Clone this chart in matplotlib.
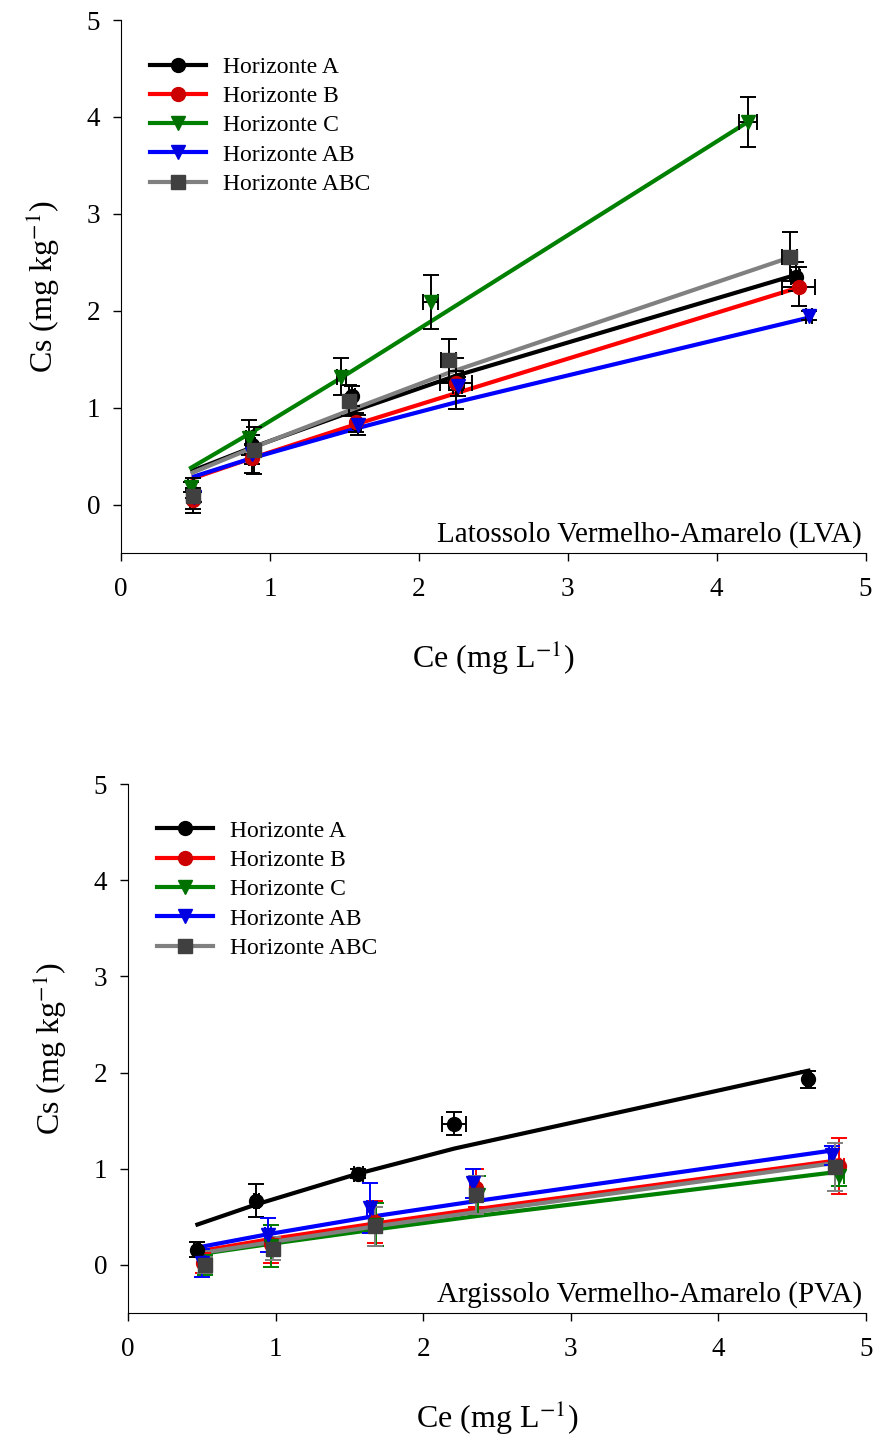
import numpy as np
import matplotlib
matplotlib.use("Agg")
import matplotlib.pyplot as plt
from matplotlib.lines import Line2D

plt.rcParams['font.family'] = ['Liberation Serif', 'DejaVu Serif']
plt.rcParams['mathtext.fontset'] = 'stix'

labels = ['Horizonte A', 'Horizonte B', 'Horizonte C', 'Horizonte AB', 'Horizonte ABC']
line_colors = ['black', '#ff0000', '#008000', '#0000ff', '#808080']
marker_colors = ['black', '#cc0000', '#007000', '#0000e0', '#404040']
markers = ['o', 'o', 'v', 'v', 's']

# ---- Latossolo Vermelho-Amarelo (LVA) ----
lva_x = [[0.48, 0.88, 1.55, 2.25, 4.53],
         [0.48, 0.88, 1.58, 2.25, 4.55],
         [0.47, 0.86, 1.48, 2.08, 4.21],
         [0.49, 0.88, 1.59, 2.26, 4.62],
         [0.48, 0.89, 1.53, 2.20, 4.49]]
lva_y = [[0.12, 0.62, 1.12, 1.28, 2.35],
         [0.05, 0.48, 0.85, 1.25, 2.25],
         [0.18, 0.69, 1.32, 2.09, 3.95],
         [0.08, 0.52, 0.82, 1.22, 1.95],
         [0.09, 0.56, 1.07, 1.49, 2.56]]
lva_yerr = [[0.05, 0.10, 0.10, 0.10, 0.15],
            [0.10, 0.15, 0.10, 0.26, 0.20],
            [0.05, 0.18, 0.19, 0.28, 0.26],
            [0.05, 0.10, 0.10, 0.10, 0.05],
            [0.18, 0.24, 0.16, 0.22, 0.25]]
lva_xerr = [[0.02, 0.02, 0.02, 0.05, 0.03],
            [0.02, 0.02, 0.02, 0.11, 0.11],
            [0.02, 0.02, 0.03, 0.05, 0.06],
            [0.02, 0.02, 0.02, 0.03, 0.02],
            [0.02, 0.02, 0.02, 0.05, 0.05]]
lva_fit = [[0.35, 0.59, 0.96, 1.33, 2.37],
           [0.27, 0.48, 0.83, 1.15, 2.24],
           [0.38, 0.73, 1.31, 1.89, 3.95],
           [0.29, 0.48, 0.79, 1.06, 1.93],
           [0.33, 0.59, 0.97, 1.36, 2.55]]

# ---- Argissolo Vermelho-Amarelo (PVA) ----
pva_x = [[0.47, 0.87, 1.56, 2.21, 4.61],
         [0.51, 0.97, 1.67, 2.36, 4.82],
         [0.52, 0.97, 1.68, 2.37, 4.82],
         [0.50, 0.95, 1.64, 2.34, 4.77],
         [0.52, 0.98, 1.67, 2.36, 4.79]]
pva_y = [[0.16, 0.67, 0.95, 1.47, 1.93],
         [0.02, 0.22, 0.45, 0.80, 1.03],
         [0.00, 0.20, 0.42, 0.73, 0.92],
         [0.02, 0.31, 0.59, 0.85, 1.14],
         [0.00, 0.17, 0.40, 0.73, 1.02]]
pva_yerr = [[0.08, 0.17, 0.05, 0.12, 0.09],
            [0.10, 0.20, 0.22, 0.20, 0.29],
            [0.10, 0.22, 0.22, 0.20, 0.10],
            [0.15, 0.18, 0.26, 0.15, 0.10],
            [0.08, 0.12, 0.20, 0.20, 0.25]]
pva_xerr = [[0.02, 0.02, 0.03, 0.08, 0.02],
            [0.02, 0.02, 0.02, 0.02, 0.03],
            [0.02, 0.02, 0.02, 0.02, 0.03],
            [0.02, 0.02, 0.02, 0.02, 0.02],
            [0.02, 0.02, 0.02, 0.02, 0.02]]
pva_fit = [[0.42, 0.63, 0.95, 1.21, 2.02],
           [0.15, 0.27, 0.43, 0.58, 1.09],
           [0.12, 0.22, 0.37, 0.51, 0.97],
           [0.19, 0.32, 0.50, 0.66, 1.19],
           [0.13, 0.24, 0.40, 0.55, 1.06]]


def drawPanel(ax, xs, ys, xerrs, yerrs, fits, title, colored_err):
	for i in range(5):
		ax.plot(xs[i], fits[i], color=line_colors[i], lw=3, zorder=2)
	for i in range(5):
		ecol = line_colors[i] if colored_err else 'black'
		ax.errorbar(xs[i], ys[i], yerr=yerrs[i], xerr=xerrs[i], fmt='none',
			ecolor=ecol, elinewidth=1.4, capsize=6, capthick=1.4, zorder=3)
		ax.plot(xs[i], ys[i], linestyle='none', marker=markers[i], ms=10,
			color=marker_colors[i], mec=marker_colors[i], zorder=4)
	ax.set_xlim(0, 5)
	ax.set_ylim(-0.5, 5)
	ax.set_xticks(range(6))
	ax.set_yticks(range(6))
	ax.spines['top'].set_visible(False)
	ax.spines['right'].set_visible(False)
	ax.tick_params(direction='out', length=6, width=1, labelsize=19.5)
	ax.tick_params(axis='x', pad=11)
	ax.tick_params(axis='y', pad=9)
	ax.set_xlabel(r'Ce (mg L$^{-1}$)', fontsize=23, labelpad=27)
	ax.set_ylabel(r'Cs (mg kg$^{-1}$)', fontsize=23, labelpad=18)
	ax.text(0.995, 0.01, title, transform=ax.transAxes, ha='right', va='bottom', fontsize=21)
	handles = []
	for i in range(5):
		handles.append(Line2D([0], [0], color=line_colors[i], lw=3, marker=markers[i],
			ms=10, mfc=marker_colors[i], mec=marker_colors[i]))
	ax.legend(handles, labels, loc='upper left', bbox_to_anchor=(0.01, 0.972), frameon=False,
		fontsize=17, handlelength=2.4, labelspacing=0.33, handletextpad=0.7, numpoints=1)


fig = plt.figure(figsize=(8.77, 14.35), dpi=100)
ax1 = fig.add_axes([0.138, 0.6146, 0.849, 0.3714])
ax2 = fig.add_axes([0.146, 0.085, 0.8415, 0.3686])

drawPanel(ax1, lva_x, lva_y, lva_xerr, lva_yerr, lva_fit, 'Latossolo Vermelho-Amarelo (LVA)', False)
drawPanel(ax2, pva_x, pva_y, pva_xerr, pva_yerr, pva_fit, 'Argissolo Vermelho-Amarelo (PVA)', True)

fig.savefig('out.png', dpi=100)
